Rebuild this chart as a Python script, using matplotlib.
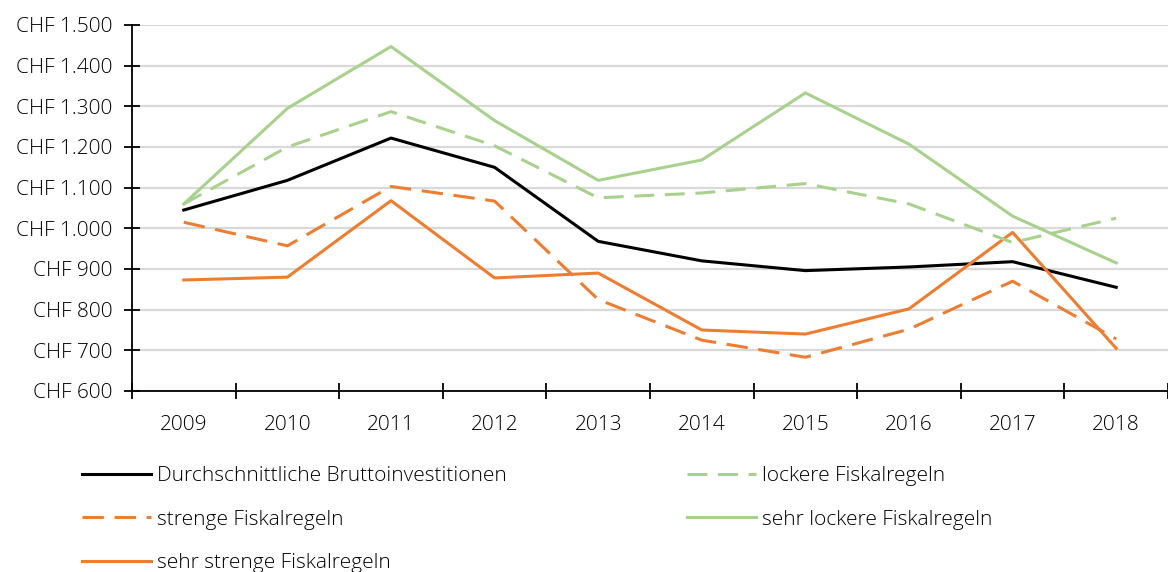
import numpy as np
import matplotlib.pyplot as plt
from matplotlib.ticker import FuncFormatter, FixedLocator

# Daten
jahre = ['2009', '2010', '2011', '2012', '2013', '2014', '2015', '2016', '2017', '2018']
durchschnitt = [1045, 1118, 1222, 1150, 968, 920, 896, 905, 918, 855]
lockere = [1060, 1200, 1287, 1203, 1075, 1087, 1110, 1060, 965, 1025]
sehr_lockere = [1060, 1295, 1447, 1265, 1118, 1168, 1333, 1207, 1030, 915]
strenge = [1015, 957, 1103, 1067, 825, 725, 683, 752, 870, 728]
sehr_strenge = [873, 880, 1068, 878, 890, 750, 740, 802, 990, 705]

ORANGE = '#ED7D31'
GRUEN = '#A9D18E'

plt.rcParams['font.family'] = ['Open Sans', 'DejaVu Sans']
plt.rcParams['font.weight'] = 'light'

fig = plt.figure(figsize=(11.68, 5.72), dpi=100)
ax = fig.add_axes([132/1168, 1 - 391/572, 1 - 132/1168, (391 - 25)/572])

x = np.arange(len(jahre))
lw = 2.2
l_avg, = ax.plot(x, durchschnitt, color='black', lw=lw)
l_str, = ax.plot(x, strenge, color=ORANGE, lw=lw, dashes=(7, 3.5))
l_sstr, = ax.plot(x, sehr_strenge, color=ORANGE, lw=lw)
l_lock, = ax.plot(x, lockere, color=GRUEN, lw=lw, dashes=(6.5, 3.5))
l_slock, = ax.plot(x, sehr_lockere, color=GRUEN, lw=lw)

ax.set_xlim(-0.5, len(jahre) - 0.5)
ax.set_ylim(600, 1500)
ax.set_yticks(np.arange(600, 1501, 100))

def chf(v, pos):
    return 'CHF ' + f'{int(v):,}'.replace(',', '.')

ax.yaxis.set_major_formatter(FuncFormatter(chf))
ax.set_xticks(x)
ax.set_xticklabels(jahre)
ax.xaxis.set_minor_locator(FixedLocator(np.arange(-0.5, len(jahre), 1)))
ax.tick_params(axis='x', which='major', length=0, pad=17, labelsize=15)
ax.tick_params(axis='x', which='minor', direction='inout', length=12, width=1.3)
ax.tick_params(axis='y', direction='inout', length=12, width=1.3, labelsize=15, pad=8)

ax.grid(axis='y', color='#d9d9d9', lw=1.6)
ax.set_axisbelow(True)
for s in ['top', 'right']:
    ax.spines[s].set_visible(False)
ax.spines['left'].set_linewidth(1.3)
ax.spines['bottom'].set_linewidth(1.3)

handles = [l_avg, l_str, l_sstr, l_lock, l_slock]
labels = ['Durchschnittliche Bruttoinvestitionen', 'strenge Fiskalregeln',
          'sehr strenge Fiskalregeln', 'lockere Fiskalregeln', 'sehr lockere Fiskalregeln']
fig.legend(handles, labels, ncol=2, loc='upper left', bbox_to_anchor=(82/1168, 1 - 466/572),
           frameon=False, fontsize=15, handlelength=3.3, handletextpad=0.3,
           columnspacing=8.65, labelspacing=1.13, borderaxespad=0, borderpad=0)

fig.savefig('out.png', dpi=100)
